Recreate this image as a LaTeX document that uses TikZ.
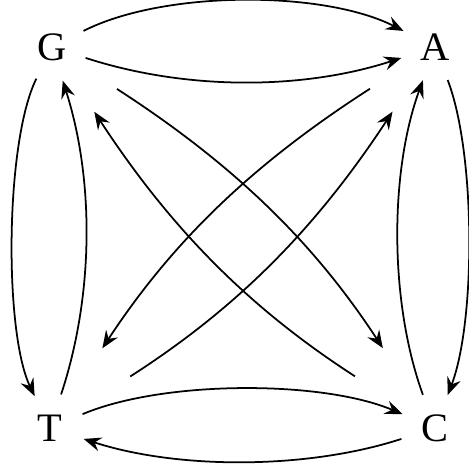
\documentclass[tikz,border=0pt]{standalone}
\usepackage{fontspec}
\setmainfont{Liberation Serif}
\usepackage{tikz}
\usetikzlibrary{arrows.meta}
\tikzset{nodebase/.style={circle,minimum size=1.4cm,inner sep=0pt,font=\fontsize{23}{27}\selectfont}}
\tikzset{arc/.style={line width=1pt,->,>={Stealth[length=10pt,width=8pt,inset=3.5pt]}}}
\tikzset{diag/.style={arc,shorten <=#1}}

\begin{document}
\begin{tikzpicture}[x=0.02cm,y=-0.02cm]
\useasboundingbox (0,0) rectangle (469,465);
% Corner nodes G, A, T, C
\node[nodebase] at (52,47) (G) {G};
\node[nodebase] at (435,47) (A) {A};
\node[nodebase] at (50,428) (T) {T};
\node[nodebase] at (435,428) (C) {C};

% Top: both arcs from G to A
\draw[arc] (G) to[bend left=27, looseness=0.72] (A);
\draw[arc] (G) to[bend right=18, looseness=0.85] (A);

% Bottom: T to C and back
\draw[arc] (T) to[bend left=23, looseness=0.7] (C);
\draw[arc] (C) to[bend left=18, looseness=0.8] (T);

% Left side
\draw[arc] (G) to[bend right=26, looseness=0.57] (T);
\draw[arc] (T) to[bend right=18, looseness=0.85] (G);

% Right side
\draw[arc] (C) to[bend left=20, looseness=0.8] (A);
\draw[arc] (A) to[bend left=21, looseness=0.64] (C);

% Diagonals (shortened away from the letters)
\draw[diag=0.84cm, shorten >=1.2cm] (G) to[bend left=12] (C);
\draw[diag=1.2cm, shorten >=0.84cm] (C) to[bend left=12] (G);
\draw[diag=0.84cm, shorten >=1.2cm] (A) to[bend right=12] (T);
\draw[diag=1.2cm, shorten >=0.84cm] (T) to[bend right=12] (A);

\end{tikzpicture}
\end{document}
